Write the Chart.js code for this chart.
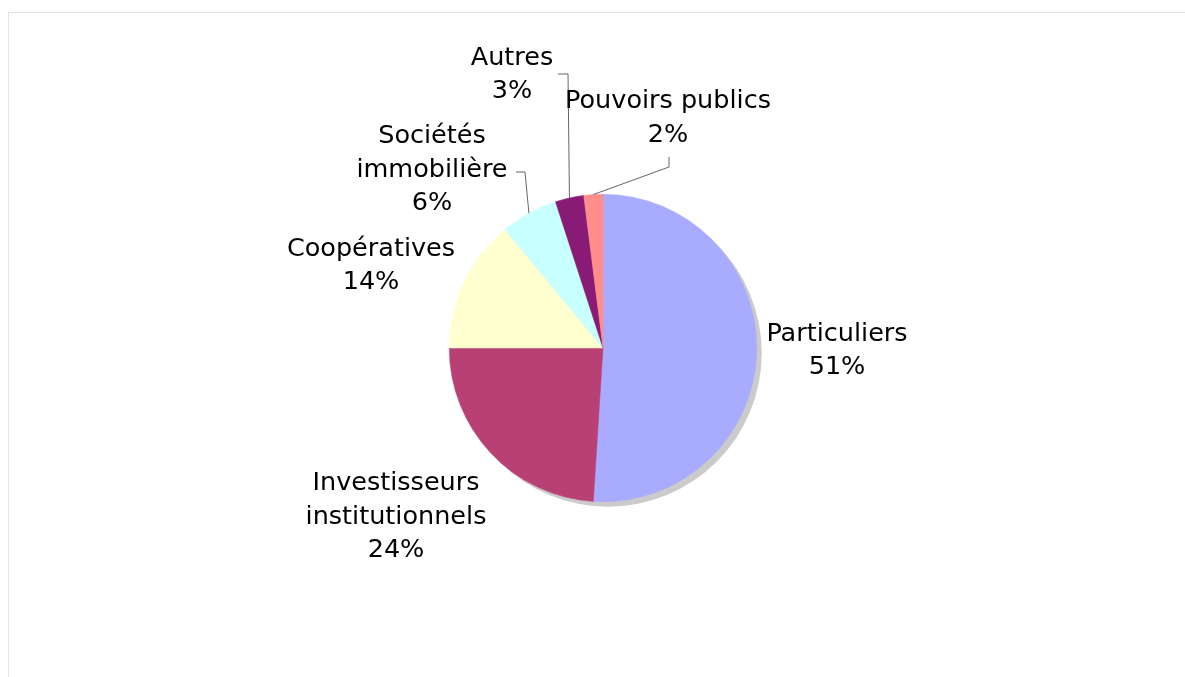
<!DOCTYPE html>
<html lang="fr">
<head>
<meta charset="utf-8">
<title>Répartition</title>
<script src="https://cdn.jsdelivr.net/npm/chart.js@4.4.1/dist/chart.umd.min.js"></script>
<style>
  html, body { margin: 0; padding: 0; background: #fff; }
  body { width: 1185px; height: 677px; position: relative; overflow: hidden; }
  .cadre {
    position: absolute; left: 8px; top: 12px; width: 1190px; height: 680px;
    border: 1px solid #e4e4e4; box-sizing: border-box;
  }
  #graphique { position: absolute; left: 0; top: 0; }
</style>
</head>
<body>
<div class="cadre"></div>
<canvas id="graphique" width="1185" height="677"></canvas>
<script>
// Données du graphique
const categories = [
  ['Particuliers'],
  ['Investisseurs', 'institutionnels'],
  ['Coopératives'],
  ['Sociétés', 'immobilière'],
  ['Autres'],
  ['Pouvoirs publics']
];
const parts = [51, 24, 14, 6, 3, 2];
const couleurs = ['#a9abff', '#b94074', '#ffffd0', '#c8ffff', '#891a76', '#ff8e8a'];

// Placement des étiquettes (centre du bloc, relatif au centre du camembert)
// et lignes de rappel pour les petites parts
const placement = [
  { dx: 234, dy: 3 },
  { dx: -207, dy: 169 },
  { dx: -232, dy: -82 },
  { dx: -171, dy: -178, rappel: [[-87, -176], [-78, -176]] },
  { dx: -91, dy: -273, rappel: [[-45, -274], [-35, -274]] },
  { dx: 65, dy: -229.5, rappel: [[66, -191], [66, -181]] }
];

const police = '25.5px "DejaVu Sans", Verdana, sans-serif';
const interligne = 33.5;

// Ombre grise sous le camembert
const ombre = {
  id: 'ombre',
  beforeDatasetsDraw(chart) {
    const arc = chart.getDatasetMeta(0).data[0];
    if (!arc) return;
    const ctx = chart.ctx;
    ctx.save();
    ctx.fillStyle = '#cbcbcb';
    ctx.beginPath();
    ctx.arc(arc.x + 5, arc.y + 5, arc.outerRadius, 0, Math.PI * 2);
    ctx.fill();
    ctx.restore();
  }
};

// Étiquettes : nom + pourcentage, avec ligne de rappel si besoin
const etiquettes = {
  id: 'etiquettes',
  afterDatasetsDraw(chart) {
    const ctx = chart.ctx;
    const meta = chart.getDatasetMeta(0);
    ctx.save();
    ctx.font = police;
    ctx.textAlign = 'center';
    ctx.textBaseline = 'middle';
    meta.data.forEach((arc, i) => {
      const p = placement[i];
      const cx = arc.x, cy = arc.y;

      if (p.rappel) {
        const milieu = (arc.startAngle + arc.endAngle) / 2;
        const bx = cx + Math.cos(milieu) * arc.outerRadius;
        const by = cy + Math.sin(milieu) * arc.outerRadius;
        ctx.strokeStyle = '#666';
        ctx.lineWidth = 1;
        ctx.beginPath();
        ctx.moveTo(cx + p.rappel[0][0], cy + p.rappel[0][1]);
        ctx.lineTo(cx + p.rappel[1][0], cy + p.rappel[1][1]);
        ctx.lineTo(bx, by);
        ctx.stroke();
      }

      const lignes = categories[i].concat([parts[i] + '%']);
      const y0 = cy + p.dy - (lignes.length - 1) * interligne / 2;
      ctx.fillStyle = '#000';
      lignes.forEach((t, k) => {
        ctx.fillText(t, cx + p.dx, y0 + k * interligne);
      });
    });
    ctx.restore();
  }
};

const ctx = document.getElementById('graphique').getContext('2d');
new Chart(ctx, {
  type: 'pie',
  data: {
    labels: categories.map(c => c.join(' ')),
    datasets: [{
      data: parts,
      backgroundColor: couleurs,
      borderColor: couleurs,
      borderWidth: 0.5
    }]
  },
  options: {
    responsive: false,
    animation: false,
    layout: { padding: { left: 449, right: 428, top: 194, bottom: 175 } },
    plugins: {
      legend: { display: false },
      tooltip: { enabled: false }
    }
  },
  plugins: [ombre, etiquettes]
});
</script>
</body>
</html>
